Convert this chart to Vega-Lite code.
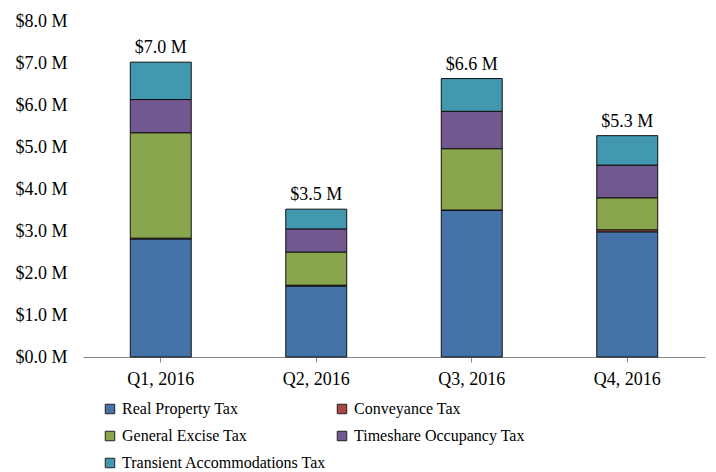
{
  "$schema": "https://vega.github.io/schema/vega-lite/v6.json",
  "width": 622,
  "height": 336,
  "autosize": {"type": "none"},
  "padding": {"left": 83, "top": 21, "right": 11, "bottom": 115},
  "background": "white",
  "config": {
    "view": {"stroke": null},
    "font": "Liberation Serif",
    "axis": {"labelFont": "Liberation Serif", "labelFontSize": 18, "labelColor": "#000", "grid": false, "title": null},
    "legend": {"labelFont": "Liberation Serif", "labelFontSize": 16, "labelColor": "#000"}
  },
  "data": {
    "values": [
      {"quarter": "Q1, 2016", "tax": "Real Property Tax", "ord": 1, "value": 2.81},
      {"quarter": "Q1, 2016", "tax": "Conveyance Tax", "ord": 2, "value": 0.02},
      {"quarter": "Q1, 2016", "tax": "General Excise Tax", "ord": 3, "value": 2.51},
      {"quarter": "Q1, 2016", "tax": "Timeshare Occupancy Tax", "ord": 4, "value": 0.79},
      {"quarter": "Q1, 2016", "tax": "Transient Accommodations Tax", "ord": 5, "value": 0.89},
      {"quarter": "Q2, 2016", "tax": "Real Property Tax", "ord": 1, "value": 1.69},
      {"quarter": "Q2, 2016", "tax": "Conveyance Tax", "ord": 2, "value": 0.02},
      {"quarter": "Q2, 2016", "tax": "General Excise Tax", "ord": 3, "value": 0.79},
      {"quarter": "Q2, 2016", "tax": "Timeshare Occupancy Tax", "ord": 4, "value": 0.55},
      {"quarter": "Q2, 2016", "tax": "Transient Accommodations Tax", "ord": 5, "value": 0.47},
      {"quarter": "Q3, 2016", "tax": "Real Property Tax", "ord": 1, "value": 3.49},
      {"quarter": "Q3, 2016", "tax": "Conveyance Tax", "ord": 2, "value": 0.01},
      {"quarter": "Q3, 2016", "tax": "General Excise Tax", "ord": 3, "value": 1.46},
      {"quarter": "Q3, 2016", "tax": "Timeshare Occupancy Tax", "ord": 4, "value": 0.89},
      {"quarter": "Q3, 2016", "tax": "Transient Accommodations Tax", "ord": 5, "value": 0.78},
      {"quarter": "Q4, 2016", "tax": "Real Property Tax", "ord": 1, "value": 2.98},
      {"quarter": "Q4, 2016", "tax": "Conveyance Tax", "ord": 2, "value": 0.05},
      {"quarter": "Q4, 2016", "tax": "General Excise Tax", "ord": 3, "value": 0.76},
      {"quarter": "Q4, 2016", "tax": "Timeshare Occupancy Tax", "ord": 4, "value": 0.78},
      {"quarter": "Q4, 2016", "tax": "Transient Accommodations Tax", "ord": 5, "value": 0.70}
    ]
  },
  "encoding": {
    "x": {
      "field": "quarter", "type": "nominal", "sort": null,
      "scale": {"paddingInner": 0.608, "paddingOuter": 0.304},
      "axis": {"labelAngle": 0, "domainColor": "#868686", "tickColor": "#868686", "tickSize": 5, "labelPadding": 8, "domainWidth": 1}
    }
  },
  "layer": [
    {
      "mark": {"type": "bar", "stroke": "#111", "strokeWidth": 1},
      "encoding": {
        "y": {
          "field": "value", "type": "quantitative", "stack": "zero",
          "scale": {"domain": [0, 8], "nice": false},
          "axis": {"values": [0, 1, 2, 3, 4, 5, 6, 7, 8], "domain": false, "ticks": false, "labelPadding": 16,
                   "labelExpr": "'$' + format(datum.value, '.1f') + ' M'"}
        },
        "color": {
          "field": "tax", "type": "nominal",
          "scale": {
            "domain": ["Real Property Tax", "Conveyance Tax", "General Excise Tax", "Timeshare Occupancy Tax", "Transient Accommodations Tax"],
            "range": ["#4572A7", "#AA4643", "#89A54E", "#71588F", "#4198AF"]
          },
          "legend": {
            "title": null, "orient": "none", "legendX": 19, "legendY": 380, "direction": "horizontal", "columns": 2,
            "symbolType": "square", "symbolSize": 90, "symbolStrokeColor": "#222", "symbolStrokeWidth": 1,
            "labelOffset": 4, "columnPadding": 7, "rowPadding": 11, "labelLimit": 400
          }
        },
        "order": {"field": "ord", "type": "quantitative"}
      }
    },
    {
      "transform": [
        {"aggregate": [{"op": "sum", "field": "value", "as": "total"}], "groupby": ["quarter"]},
        {"calculate": "'$' + format(datum.total, '.1f') + ' M'", "as": "label"}
      ],
      "mark": {"type": "text", "baseline": "bottom", "dy": -5, "fontSize": 18, "font": "Liberation Serif", "color": "#000"},
      "encoding": {
        "y": {"field": "total", "type": "quantitative"},
        "text": {"field": "label", "type": "nominal"}
      }
    }
  ]
}
